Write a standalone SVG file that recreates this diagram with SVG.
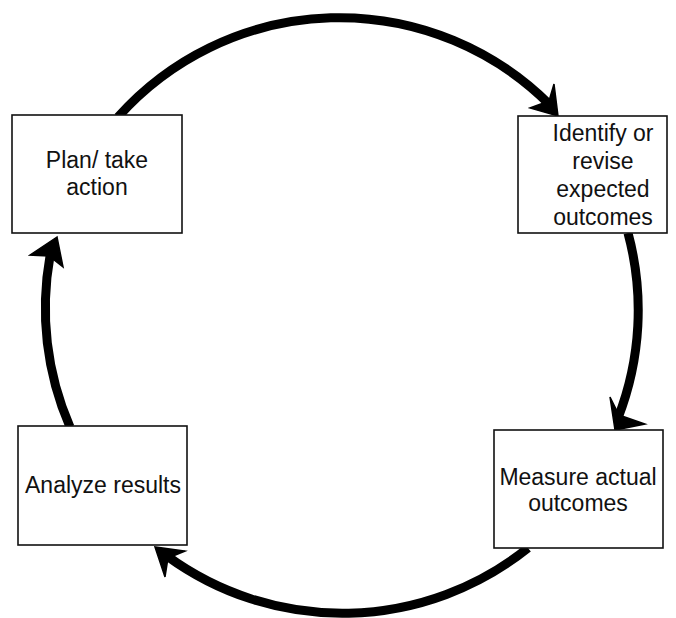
<svg xmlns="http://www.w3.org/2000/svg" width="676" height="618" viewBox="0 0 676 618">
<style>
.box{fill:#fff;stroke:#111;stroke-width:1.6}
.t{font-family:"Liberation Sans",Arial,sans-serif;font-size:23px;fill:#111;text-anchor:middle}
.arc{fill:none;stroke:#000;stroke-width:9;stroke-linecap:butt}
.head{fill:#000;stroke:#000;stroke-width:1.5;stroke-linejoin:miter}
</style>
<rect width="676" height="618" fill="#fff"/>
<g id="connectors">
<path class="arc" d="M 118 117 A 297 297 0 0 1 549 104"/>
<polygon class="head" points="558,116 554,84 549,101 530,108"/>
<path class="arc" d="M 628 233 A 297 297 0 0 1 618 418"/>
<polygon class="head" points="615,430 610,397 619,415 645,424"/>
<path class="arc" d="M 528 548 A 297 297 0 0 1 167 556"/>
<polygon class="head" points="155,547 165,577 168,558 185,551"/>
<path class="arc" d="M 70 427 A 297 297 0 0 1 50 256"/>
<polygon class="head" points="57,237 30,255 49,256 63,267"/>
</g>
<g id="plan">
<rect class="box" x="12" y="115" width="170" height="118"/>
<text class="t" x="97" y="168">Plan/ take</text>
<text class="t" x="97" y="195">action</text>
</g>
<g id="identify">
<rect class="box" x="518" y="116" width="149" height="117"/>
<text class="t" x="603" y="141">Identify or</text>
<text class="t" x="603" y="169">revise</text>
<text class="t" x="603" y="197">expected</text>
<text class="t" x="603" y="225">outcomes</text>
</g>
<g id="measure">
<rect class="box" x="494" y="430" width="169" height="118"/>
<text class="t" x="578" y="485">Measure actual</text>
<text class="t" x="578" y="511">outcomes</text>
</g>
<g id="analyze">
<rect class="box" x="18" y="426" width="169" height="119"/>
<text class="t" x="103" y="493">Analyze results</text>
</g>
</svg>
